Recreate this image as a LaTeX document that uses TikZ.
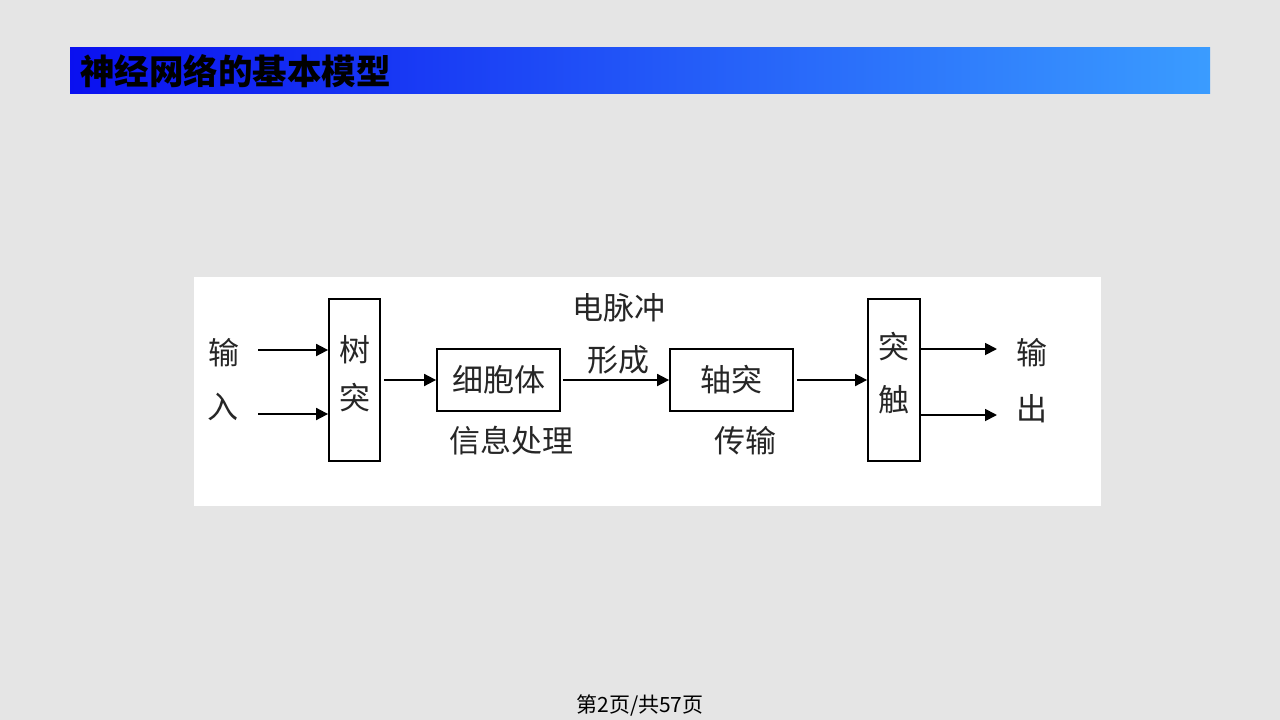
\documentclass[tikz,border=0pt]{standalone}
\usepackage{fontspec}
\newfontfamily\cjk{Noto Sans CJK SC}
\usetikzlibrary{arrows.meta}
\definecolor{bggray}{HTML}{E5E5E5}
\definecolor{barleft}{HTML}{0A10F0}
\definecolor{barright}{HTML}{3A9CFF}
\tikzset{
  blk/.style={draw=black, line width=1.8pt, fill=white, inner sep=0pt},
  lbl/.style={inner sep=0pt, font=\cjk\fontsize{31}{34}\selectfont, text=black!85},
  conn/.style={line width=1.8pt, -{Triangle[length=12pt,width=12pt]}},
}
\begin{document}
\begin{tikzpicture}[x=1pt,y=-1pt]
\useasboundingbox (0,0) rectangle (1280,720);
\fill[bggray] (0,0) rectangle (1280,720);
% title bar
\shade[left color=barleft, right color=barright] (70,47) rectangle (1210,93);
\node[anchor=west, inner sep=0pt, font=\cjk\bfseries\fontsize{34.5}{38}\selectfont] (title) at (80,71) {神经网络的基本模型};
% white panel
\fill[white] (194,277) rectangle (1101,506);
% blocks
\node[blk, minimum width=51pt, minimum height=162pt] (shu) at (354.5,380) {};
\node[lbl] (shu1) at (354.5,350) {树};
\node[lbl] (shu2) at (354.5,398) {突};
\node[blk, minimum width=123pt, minimum height=62pt, lbl, draw=black, line width=1.8pt] (xbt) at (498.5,380) {细胞体};
\node[blk, minimum width=123pt, minimum height=62pt, lbl, draw=black, line width=1.8pt] (zt) at (731.5,380) {轴突};
\node[blk, minimum width=52pt, minimum height=162pt] (tc) at (894,380) {};
\node[lbl] (tc1) at (894,347) {突};
\node[lbl] (tc2) at (894,400) {触};
% labels
\node[lbl] (in1) at (224,353) {输};
\node[lbl] (in2) at (223,407) {入};
\node[lbl] (dmc) at (619,308) {电脉冲};
\node[lbl] (xc) at (618,360) {形成};
\node[lbl] (xxcl) at (511,441) {信息处理};
\node[lbl] (cs) at (745,441) {传输};
\node[lbl] (out1) at (1032,353) {输};
\node[lbl] (out2) at (1032,409) {出};
% connectors
\coordinate (a1) at (258,350);
\coordinate (a2) at (258,414);
\coordinate (b1) at (997,349);
\coordinate (b2) at (997,415);
\draw[conn] (a1) -- (a1 -| shu.west);
\draw[conn] (a2) -- (a2 -| shu.west);
\draw[conn] ([xshift=3pt]shu.east |- xbt.west) -- (xbt.west);
\draw[conn] ([xshift=2pt]xbt.east) -- (zt.west);
\draw[conn] ([xshift=3pt]zt.east) -- (zt.east -| tc.west);
\draw[conn] (b1 -| tc.east) -- (b1);
\draw[conn] (b2 -| tc.east) -- (b2);
% footer
\node[inner sep=0pt, font=\cjk\fontsize{21}{24}\selectfont] (footer) at (640,705) {第2页/共57页};
\end{tikzpicture}
\end{document}
